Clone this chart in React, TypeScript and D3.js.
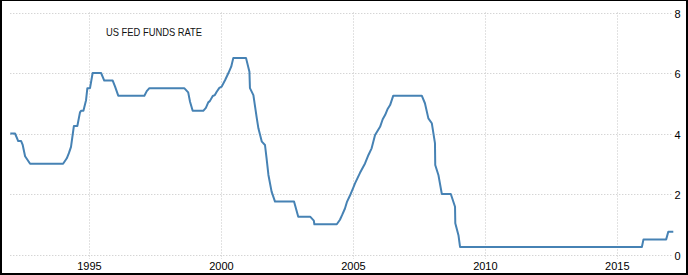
import React from "react";
import * as d3 from "d3";

const title = "US FED FUNDS RATE";
const yTicks = [0, 2, 4, 6, 8];
const xTicks = [1995, 2000, 2005, 2010, 2015];

// vertices of the rate line: decimal year and rate (%)
const years = [
  1992.0, 1992.18, 1992.3, 1992.41, 1992.47, 1992.56, 1992.75, 1994.0, 1994.14, 1994.22,
  1994.3, 1994.37, 1994.41, 1994.54, 1994.64, 1994.68, 1994.77, 1994.87, 1994.92, 1995.02,
  1995.12, 1995.44, 1995.56, 1995.88, 1995.97, 1996.09, 1997.08, 1997.17, 1997.27, 1998.59,
  1998.74, 1998.81, 1998.91, 1999.31, 1999.41, 1999.5, 1999.56, 1999.67, 1999.75, 1999.82,
  1999.92, 2000.01, 2000.14, 2000.26, 2000.37, 2000.45, 2000.93, 2001.06, 2001.08, 2001.21,
  2001.34, 2001.4, 2001.53, 2001.65, 2001.71, 2001.78, 2001.9, 2002.03, 2002.75, 2002.91,
  2003.36, 2003.5, 2003.52, 2004.37, 2004.49, 2004.57, 2004.68, 2004.76, 2004.87, 2005.0,
  2005.06, 2005.25, 2005.44, 2005.57, 2005.69, 2005.82, 2006.01, 2006.11, 2006.2, 2006.29,
  2006.39, 2006.51, 2007.59, 2007.71, 2007.84, 2007.97, 2008.09, 2008.1, 2008.22, 2008.35,
  2008.69, 2008.85, 2008.86, 2008.98, 2009.04, 2015.93, 2015.99, 2016.85, 2016.93, 2017.12,
];
const rates = [
  4.0, 4.0, 3.75, 3.75, 3.62, 3.25, 3.0, 3.0, 3.18, 3.35,
  3.56, 4.0, 4.25, 4.25, 4.7, 4.75, 4.75, 5.1, 5.5, 5.5,
  6.0, 6.0, 5.75, 5.75, 5.55, 5.25, 5.25, 5.4, 5.5, 5.5,
  5.36, 5.05, 4.75, 4.75, 4.85, 5.03, 5.07, 5.24, 5.27, 5.38,
  5.51, 5.55, 5.77, 5.99, 6.21, 6.5, 6.5, 6.04, 5.5, 5.27,
  4.5, 4.17, 3.73, 3.62, 3.18, 2.63, 2.08, 1.75, 1.75, 1.25,
  1.25, 1.12, 1.0, 1.0, 1.15, 1.3, 1.52, 1.75, 1.95, 2.22,
  2.35, 2.7, 3.01, 3.29, 3.51, 3.95, 4.22, 4.47, 4.61, 4.8,
  4.94, 5.25, 5.25, 5.0, 4.5, 4.34, 3.68, 2.96, 2.63, 2.0,
  2.0, 1.58, 1.03, 0.64, 0.25, 0.25, 0.5, 0.5, 0.75, 0.75,
];

const W = 688;
const H = 275;
const left = 10.3;
const right = 673.3;
const top = 12.5;
const bottom = 254.5;

export default function App() {
  const x = d3.scaleLinear().domain([1992, 2017.12]).range([left, right]);
  const y = d3.scaleLinear().domain([0, 8]).range([bottom, top]);
  const pts = years.map((t, i) => [t, rates[i]] as [number, number]);
  const line = d3
    .line<[number, number]>()
    .x((d) => x(d[0]))
    .y((d) => y(d[1]));
  const font = "'Liberation Sans', Arial, sans-serif";
  return (
    <svg
      width={W}
      height={H}
      style={{ position: "absolute", left: 0, top: 0, display: "block" }}
    >
      <rect x={0} y={0} width={W} height={H} fill="#000" />
      <rect x={2} y={1} width={W - 4} height={H - 3} fill="#fff" />
      <g stroke="#c4c4c4" strokeWidth={1} strokeDasharray="1,2" fill="none">
        {yTicks.map((v) => (
          <line key={"h" + v} x1={left} x2={right} y1={Math.round(y(v)) + 0.5} y2={Math.round(y(v)) + 0.5} />
        ))}
        {xTicks.map((t) => (
          <line key={"v" + t} x1={Math.round(x(t)) + 0.5} x2={Math.round(x(t)) + 0.5} y1={top} y2={259} />
        ))}
      </g>
      <path d={line(pts) || ""} fill="none" stroke="#4682b4" strokeWidth={2} strokeLinejoin="round" />
      <g fontFamily={font} fontSize={11} fill="#000">
        {yTicks.map((v) => (
          <text key={"yl" + v} x={674.5} y={y(v) + 5}>
            {v}
          </text>
        ))}
        {xTicks.map((t) => (
          <text key={"xl" + t} x={x(t)} y={270} textAnchor="middle">
            {d3.format("d")(t)}
          </text>
        ))}
        <text x={106} y={36} textLength={96} lengthAdjust="spacingAndGlyphs" fill="#111">
          {title}
        </text>
      </g>
    </svg>
  );
}
